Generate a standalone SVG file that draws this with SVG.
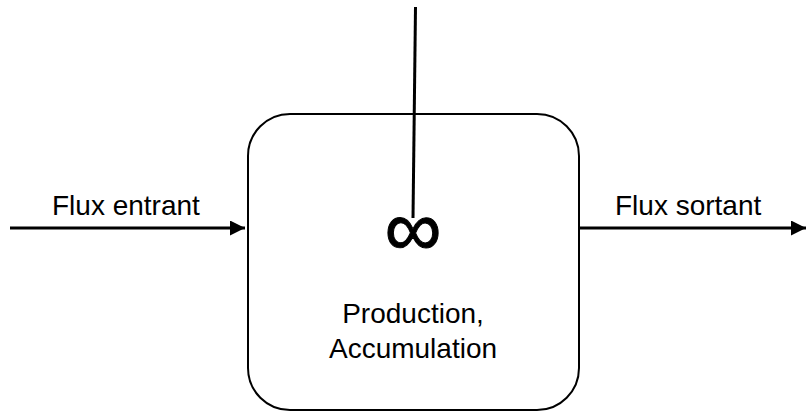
<svg xmlns="http://www.w3.org/2000/svg" width="808" height="412" viewBox="0 0 808 412">
  <style>
    .lbl { font-family: "Liberation Sans", Arial, sans-serif; font-size: 28px; fill: #000; }
    .flow { stroke: #000; stroke-width: 3; fill: none; }
  </style>
  <defs>
    <marker id="arrow" markerWidth="6" markerHeight="6" refX="5" refY="2.5" orient="auto" markerUnits="strokeWidth">
      <path d="M0,0 L5,2.5 L0,5 Z" fill="#000"/>
    </marker>
  </defs>
  <rect width="808" height="412" fill="#fff"/>

  <!-- reactor vessel -->
  <g id="reactor">
    <rect x="248" y="114" width="331" height="296" rx="42" ry="42" fill="#fff" stroke="#000" stroke-width="2"/>
    <text class="lbl" x="413" y="323" text-anchor="middle">Production,</text>
    <text class="lbl" x="413" y="358" text-anchor="middle">Accumulation</text>
  </g>

  <!-- stirrer: shaft and impeller -->
  <g id="stirrer">
    <line x1="415.5" y1="7" x2="413" y2="218" stroke="#000" stroke-width="3"/>
    <text x="413" y="256" text-anchor="middle" font-family="Liberation Sans, Arial, sans-serif" font-size="80" stroke="#000" stroke-width="1">∞</text>
  </g>

  <!-- flows -->
  <g id="connectors">
    <line class="flow" x1="10" y1="228" x2="245" y2="228" marker-end="url(#arrow)"/>
    <line class="flow" x1="579" y1="228" x2="806" y2="228" marker-end="url(#arrow)"/>
  </g>

  <g id="labels">
    <text class="lbl" x="52" y="215">Flux entrant</text>
    <text class="lbl" x="615" y="215">Flux sortant</text>
  </g>
</svg>
